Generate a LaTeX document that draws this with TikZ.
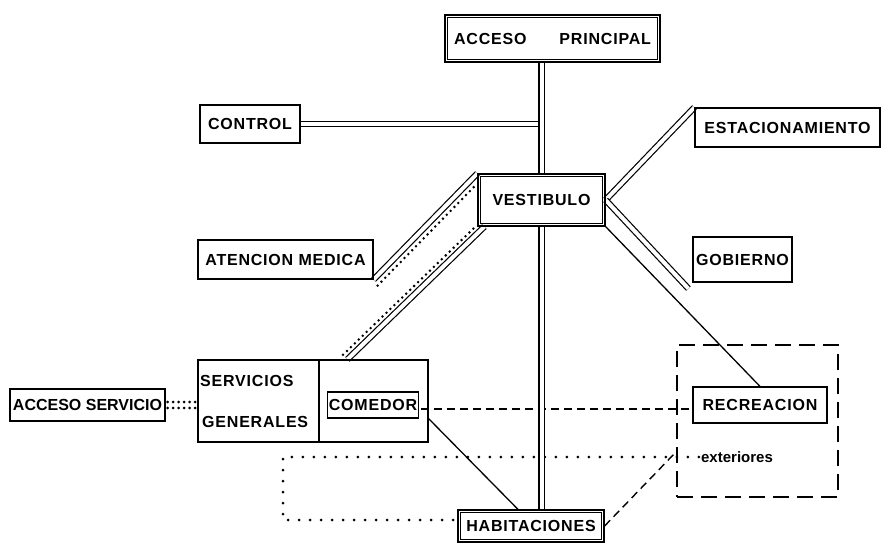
\documentclass[tikz,border=0pt]{standalone}
\usepackage{fontspec}
\setmainfont{Liberation Sans}
\newfontfamily\lblfont[LetterSpace=5]{Liberation Sans}
\usetikzlibrary{calc,backgrounds}
\begin{document}
\begin{tikzpicture}[x=1bp,y=-1bp,
  lbl/.style={font={\lblfont\bfseries\fontsize{16bp}{18bp}\selectfont}},
  box/.style={draw, line width=1.2bp, inner sep=1bp, lbl},
  innerline/.style={line width=1bp},
  dbl/.style={line width=1.2bp, double, double distance=4bp},
  solidline/.style={line width=1.3bp},
  dotdense/.style={line width=2.8bp, line cap=round, dash pattern=on 0bp off 5.5bp},
  dotsparse/.style={line width=3bp, line cap=round, dash pattern=on 0bp off 11bp},
  dsh/.style={line width=1.4bp, dash pattern=on 8bp off 5bp},
  dshbox/.style={line width=1.4bp, dash pattern=on 16bp off 8bp}]
\useasboundingbox (0,0) rectangle (882,544);
% nodes
\node[box, minimum width=215bp, minimum height=47bp] (ap) at (552.5,38.5) {ACCESO\hspace{33bp}PRINCIPAL};
\node[box, minimum width=100bp, minimum height=38bp] (ctrl) at (250,124) {CONTROL};
\node[box, minimum width=185bp, minimum height=39bp] (est) at (787.5,127.5) {ESTACIONAMIENTO};
\node[box, minimum width=127bp, minimum height=52bp] (vest) at (541.5,200) {VESTIBULO};
\node[box, minimum width=175bp, minimum height=39bp] (am) at (285.5,259.5) {ATENCION MEDICA};
\node[box, minimum width=99bp, minimum height=45bp] (gob) at (742.5,259.5) {GOBIERNO};
\node[box, minimum width=121bp, minimum height=82bp] (sg) at (258.5,401) {};
\node[box, minimum width=109bp, minimum height=82bp] (com) at (373.5,401) {};
\node[lbl, anchor=west, inner sep=1bp] (sgt1) at (199,381) {SERVICIOS};
\node[lbl, anchor=west, inner sep=1bp] (sgt2) at (201,422) {GENERALES};
\node[box, minimum width=90bp, minimum height=26bp] (cbox) at (373,405) {COMEDOR};
\node[box, minimum width=155bp, minimum height=32bp, font={\bfseries\fontsize{16bp}{18bp}\selectfont}] (acs) at (87.5,405) {ACCESO SERVICIO};
\node[draw, dshbox, minimum width=161bp, minimum height=152bp] (ext) at (757.5,421) {};
\node[box, minimum width=134bp, minimum height=36bp] (rec) at (760,405) {RECREACION};
\node[font={\bfseries\fontsize{15bp}{17bp}\selectfont}, inner sep=2bp] (extt) at (737,457) {exteriores};
\node[box, minimum width=146bp, minimum height=32bp] (hab) at (531,526) {HABITACIONES};
% inner lines of the double-bordered boxes
\draw[innerline] ($(ap.north west)+(3,3)$) rectangle ($(ap.south east)+(-3,-3)$);
\draw[innerline] ($(vest.north west)+(3,3)$) rectangle ($(vest.south east)+(-3,-3)$);
\draw[innerline] ($(hab.north west)+(3,3)$) rectangle ($(hab.south east)+(-3,-3)$);
\coordinate (dlt) at (283,455);
\coordinate (dlb) at (283,520);
\coordinate (he) at (675,453);
% connectors
\begin{scope}[on background layer]
\draw[dotsparse] (extt.west) -- (extt.west -| dlt) -- (dlb) -- (dlb -| hab.west);
\draw[dsh] ($(cbox.east)+(2,4)$) -- ($(rec.west)+(0,4)$);
\draw[dsh] (hab.east) -- (he);
\draw[dotdense] ($(acs.east)+(2,-3)$) -- ($(acs.east -| sg.west)+(0,-3)$);
\draw[dotdense] ($(acs.east)+(2,3)$) -- ($(acs.east -| sg.west)+(0,3)$);
\draw[dotdense] ($(am.south east)+(4,6)$) -- ($(vest.north west)+(0,10)$);
\draw[dotdense] ($(vest.south west)+(-4,2)$) -- ($(com.north west)+(24,-4)$);
\draw[dbl] (ctrl.east) -- ($(ctrl.east -| vest.north)+(-3,0)$);
\draw[dbl] (ap.south -| vest.north) -- (vest.north);
\draw[dbl] (vest.south) -- (vest.south |- hab.north);
\draw[dbl] (vest.east) -- (est.north west);
\draw[dbl] (vest.east) -- ($(gob.south west)+(-4,6)$);
\draw[dbl] (am.south east) -- (vest.north west);
\draw[dbl] ($(vest.south west)+(7,0)$) -- ($(com.north west)+(29,0)$);
\draw[solidline] (vest.south east) -- (rec.north);
\draw[solidline] (com.east |- cbox.south) -- ($(hab.north)+(-13,0)$);
\end{scope}
\end{tikzpicture}
\end{document}
